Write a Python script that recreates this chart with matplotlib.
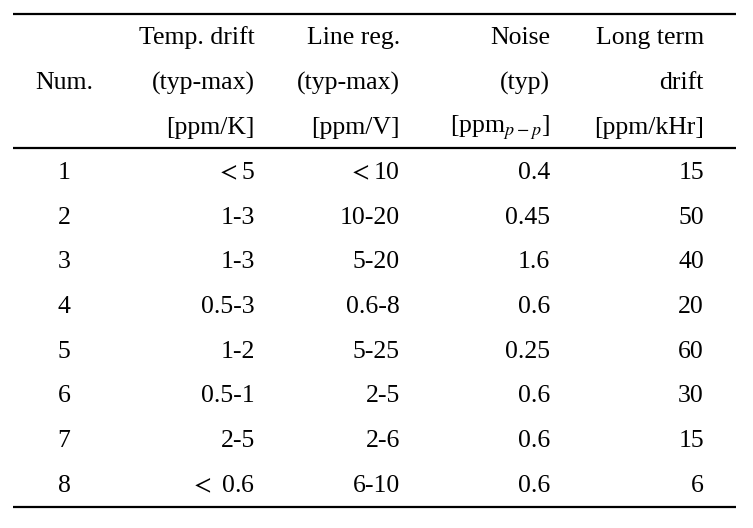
import matplotlib.pyplot as plt

plt.rcParams['font.family'] = ['Liberation Serif', 'DejaVu Serif']
plt.rcParams['mathtext.fontset'] = 'stix'

header1 = ["", "Temp. drift", "Line reg.", "Noise", "Long term"]
header2 = ["Num.", "(typ-max)", "(typ-max)", "(typ)", "drift"]
header3 = ["", "[ppm/K]", "[ppm/V]", "[ppm$_{p-p}$]", "[ppm/kHr]"]

num = ["1", "2", "3", "4", "5", "6", "7", "8"]
temp_drift = ["$<$5", "1-3", "1-3", "0.5-3", "1-2", "0.5-1", "2-5", "$<$ 0.6"]
line_reg = ["$<$10", "10-20", "5-20", "0.6-8", "5-25", "2-5", "2-6", "6-10"]
noise = ["0.4", "0.45", "1.6", "0.6", "0.25", "0.6", "0.6", "0.6"]
long_drift = ["15", "50", "40", "20", "60", "30", "15", "6"]

fig = plt.figure(figsize=(7.53, 5.28), dpi=100)
ax = fig.add_axes([0, 0, 1, 1])
ax.set_xlim(0, 753)
ax.set_ylim(528, 0)
ax.axis('off')

# column anchors (first centred, rest right aligned)
col_x = [64, 255, 400, 550, 704]
col_ha = ['center', 'right', 'right', 'right', 'right']
fs = 18.5

head_y = [38, 83, 128]
for y, row in zip(head_y, [header1, header2, header3]):
    for x, ha, t in zip(col_x, col_ha, row):
        ax.text(x, y, t, ha=ha, va='center', fontsize=fs)

columns = [num, temp_drift, line_reg, noise, long_drift]
row_y0, row_dy = 173, 44.7
for i in range(len(num)):
    y = row_y0 + i * row_dy
    for x, ha, col in zip(col_x, col_ha, columns):
        ax.text(x, y, col[i], ha=ha, va='center', fontsize=fs)

for y in [13.5, 148, 507]:
    ax.plot([13, 736], [y, y], color='black', lw=1.6, solid_capstyle='butt')

fig.savefig('out.png', dpi=100)
